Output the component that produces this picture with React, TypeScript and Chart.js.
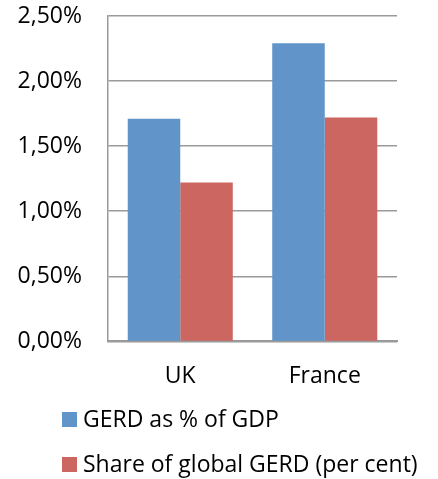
import React, { useEffect, useRef } from "react";
import { Chart, registerables } from "chart.js";

Chart.register(...registerables);

const categories = ["UK", "France"];
const seriesNames = ["GERD as % of GDP", "Share of global GERD (per cent)"];
const gerdPctGdp = [1.71, 2.29];
const shareGlobalGerd = [1.22, 1.72];
const yTicks = [0, 0.5, 1.0, 1.5, 2.0, 2.5];
const colors = ["#6195C9", "#CC6660"];

const FONT = "'Open Sans', sans-serif";

const legendPlugin = {
  id: "customLegend",
  afterDraw(chart: any) {
    const ctx = chart.ctx;
    ctx.save();
    ctx.font = `23px ${FONT}`;
    ctx.textBaseline = "middle";
    ctx.textAlign = "left";
    chart.data.datasets.forEach((ds: any, i: number) => {
      const cy = 419 + i * 45;
      ctx.fillStyle = ds.backgroundColor;
      ctx.fillRect(62, cy - 7, 15, 15);
      ctx.fillStyle = "#000";
      ctx.fillText(ds.label, 83, cy + 1);
    });
    ctx.restore();
  },
};

export default function App() {
  const ref = useRef<HTMLCanvasElement>(null);
  useEffect(() => {
    document.body.style.margin = "0";
    const chart = new Chart(ref.current!, {
      type: "bar",
      data: {
        labels: categories,
        datasets: [
          { label: seriesNames[0], data: gerdPctGdp, backgroundColor: colors[0] },
          { label: seriesNames[1], data: shareGlobalGerd, backgroundColor: colors[1] },
        ],
      },
      options: {
        animation: false,
        responsive: false,
        layout: { padding: { top: 16, right: 41, left: 0, bottom: 68 } },
        datasets: { bar: { barPercentage: 1, categoryPercentage: 0.727 } },
        plugins: { legend: { display: false }, tooltip: { enabled: false } },
        scales: {
          x: {
            grid: { display: false, drawTicks: false },
            border: { display: true, color: "#9A9A9A", width: 2 },
            ticks: { color: "#000", font: { family: FONT, size: 23 }, padding: 21 },
            afterFit: (scale: any) => {
              scale.paddingLeft = 0;
              scale.paddingRight = 0;
            },
          },
          y: {
            min: 0,
            max: 2.5,
            afterBuildTicks: (scale: any) => {
              scale.ticks = yTicks.map((v) => ({ value: v }));
            },
            afterFit: (scale: any) => {
              scale.width = 108;
              scale.paddingTop = 0;
              scale.paddingBottom = 0;
            },
            grid: { color: "#9A9A9A", lineWidth: 1.5, drawTicks: false },
            border: { display: true, color: "#9A9A9A", width: 1.5 },
            ticks: {
              color: "#000",
              font: { family: FONT, size: 23 },
              padding: 26,
              callback: (v: any) => Number(v).toFixed(2).replace(".", ",") + "%",
            },
          },
        },
      },
      plugins: [legendPlugin],
    });
    return () => chart.destroy();
  }, []);
  return <canvas ref={ref} width={438} height={479} style={{ display: "block" }} />;
}
